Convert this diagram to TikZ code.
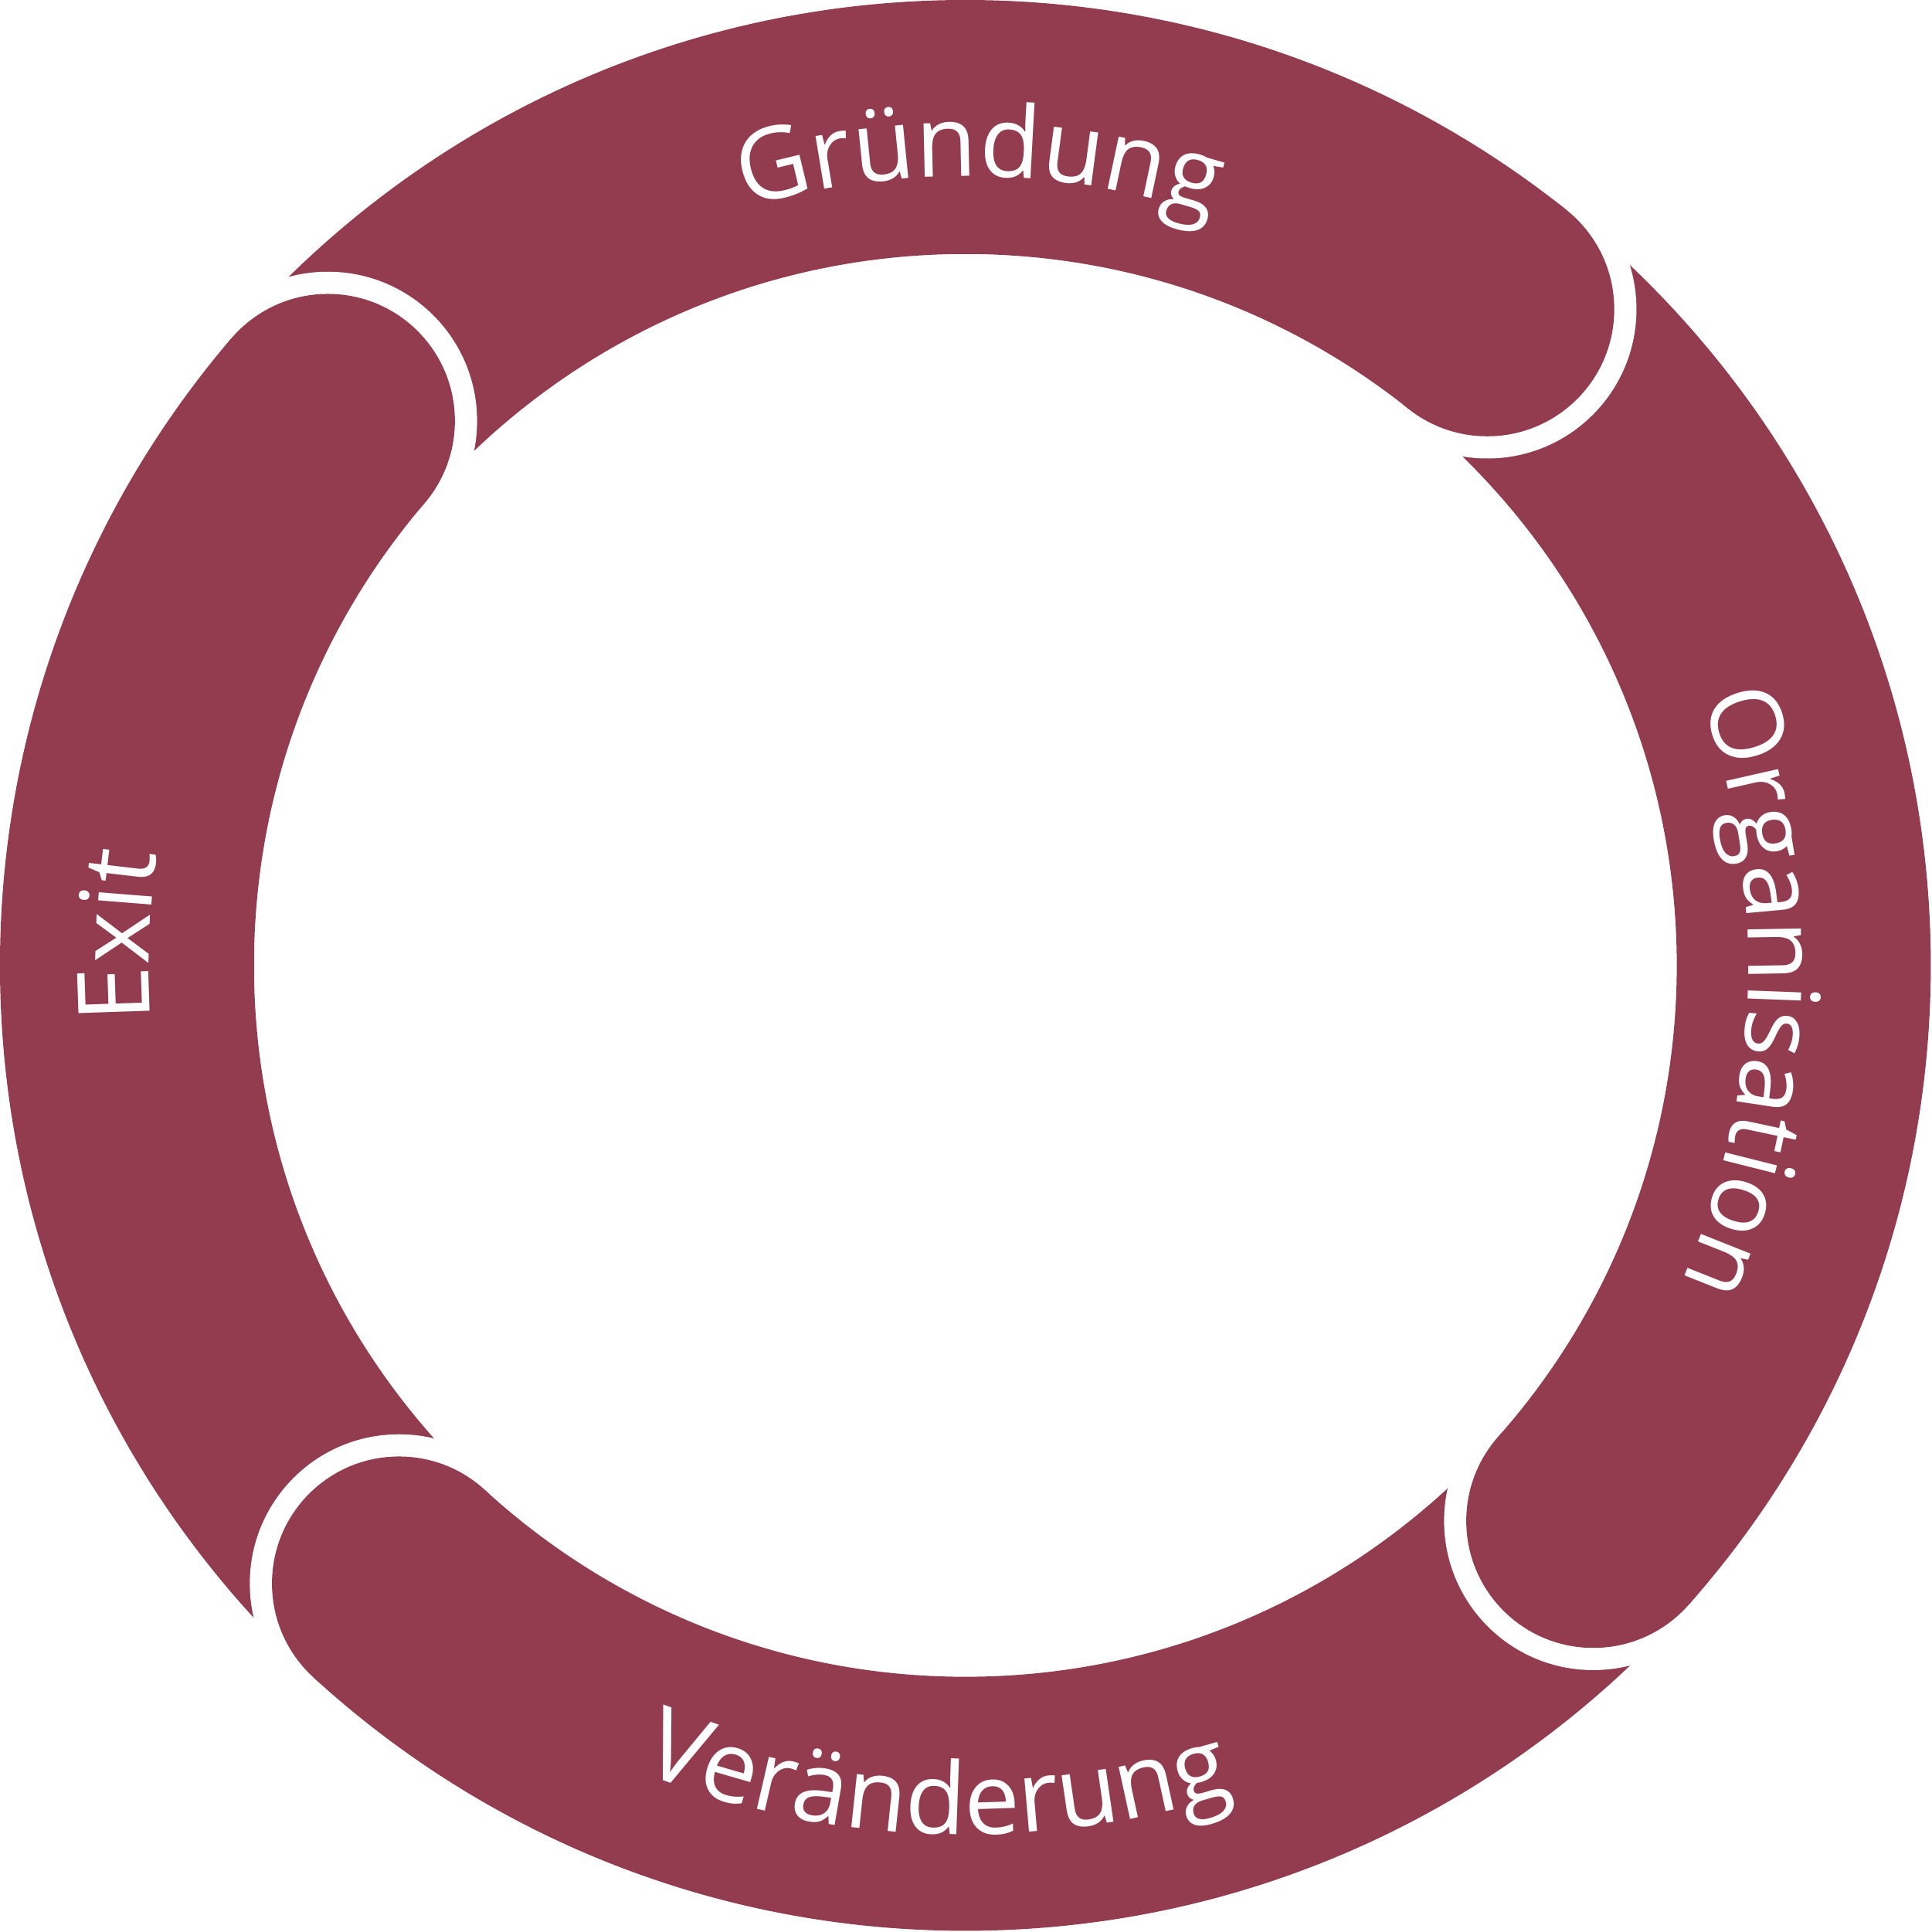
\documentclass[tikz,border=0pt]{standalone}
\usepackage{fontspec}
\setsansfont{Open Sans}
\usetikzlibrary{decorations.text}
\definecolor{ring}{HTML}{933C50}
\tikzset{
  lbl/.style={decorate,decoration={text along path,text align=center,text color=white,
     text={|\sffamily\fontsize{23}{23}\selectfont|#1}}}
}
\begin{document}
\begin{tikzpicture}
\useasboundingbox (-7.83,-7.84) rectangle (7.84,7.83);
% full ring
\fill[ring,even odd rule] (0,0) circle[radius=7.83] (0,0) circle[radius=5.77];
% heads (clockwise ends) with white gap cut into the next segment
\foreach \a [count=\i] in {51.5,-41.5,-132.5,139.5}{
  \begin{scope}
    \clip (0,0) -- (\a:12) arc[start angle=\a,end angle=\a-60,radius=12] -- cycle;
    \fill[white] (\a:6.80) circle[radius=1.21];
  \end{scope}
  \fill[ring] (\a:6.80) coordinate (h\i) circle[radius=1.03];
}
\path[lbl=Gründung] (130:6.40) arc[start angle=130,end angle=48,radius=6.40];
\path[lbl=Organisation] (48:6.35) arc[start angle=48,end angle=-52,radius=6.35];
\path[lbl=Exit] (218:6.62) arc[start angle=218,end angle=138,radius=6.62];
\path[lbl=Veränderung] (-137:7.05) arc[start angle=-137,end angle=-47,radius=7.05];
\end{tikzpicture}
\end{document}
